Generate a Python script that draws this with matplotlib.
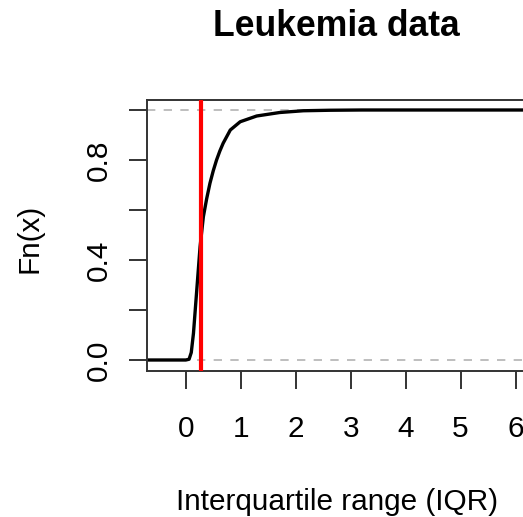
import matplotlib
matplotlib.use("Agg")
import matplotlib.pyplot as plt
import numpy as np

plt.rcParams["font.family"] = ["Liberation Sans", "DejaVu Sans"]

iqr_x = [-0.70, 0.0, 0.06, 0.10, 0.14, 0.20, 0.26, 0.32, 0.38, 0.44, 0.50,
         0.56, 0.62, 0.68, 0.81, 0.99, 1.29, 1.71, 2.14, 2.62, 3.2, 6.3]
fn_y = [0.0, 0.0, 0.003, 0.03, 0.107, 0.28, 0.453, 0.573, 0.645, 0.707,
        0.757, 0.80, 0.836, 0.867, 0.92, 0.953, 0.976, 0.99, 0.997, 0.999,
        1.0, 1.0]
cutoff = 0.283

x_ticks = [0, 1, 2, 3, 4, 5, 6]
y_ticks = [0.0, 0.2, 0.4, 0.6, 0.8, 1.0]
y_ticklabels = ["0.0", "", "0.4", "", "0.8", ""]

W, H = 523, 517
fig = plt.figure(figsize=(W / 100, H / 100), dpi=100)

left, right, top, bottom = 147.3, 526, 100, 371
ax = fig.add_axes([left / W, 1 - bottom / H, (right - left) / W, (bottom - top) / H])

ax.axhline(0, color="#b3b3b3", lw=1.2, dashes=(5, 5), zorder=1)
ax.axhline(1, color="#b3b3b3", lw=1.2, dashes=(5, 5), zorder=1)
ax.plot(iqr_x, fn_y, color="black", lw=2.4, zorder=2)
ax.axvline(cutoff, color="#ff0000", lw=3, zorder=3)

ax.set_xlim(-0.70, 6.19)
ax.set_ylim(-0.044, 1.04)
ax.set_xticks(x_ticks)
ax.set_yticks(y_ticks)
ax.set_yticklabels(y_ticklabels, rotation=90, va="center")
ax.tick_params(axis="both", length=13, width=1.4, labelsize=21.4, color="#333333")
ax.tick_params(axis="x", pad=19)
ax.tick_params(axis="y", pad=12)
for s in ax.spines.values():
    s.set_linewidth(1.4)
    s.set_color("#333333")

cx = (left + right) / 2 / W
fig.text(cx, 1 - 27 / H, "Leukemia data", ha="center", va="center",
         fontsize=25.6, fontweight="bold")
fig.text(cx, 1 - 502 / H, "Interquartile range (IQR)", ha="center",
         va="center", fontsize=21.4)
fig.text(30 / W, 1 - 238 / H, "Fn(x)", ha="center", va="center",
         rotation=90, fontsize=21.4)

fig.savefig("out.png", dpi=100)
